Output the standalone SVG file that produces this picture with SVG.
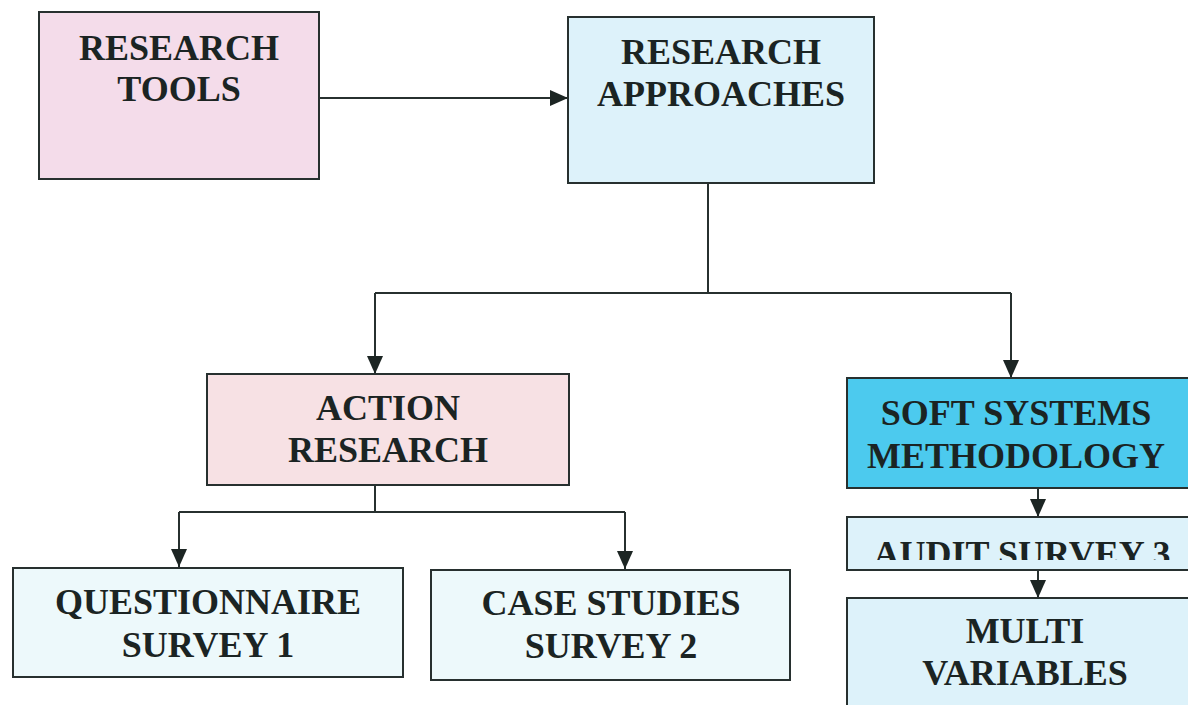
<svg xmlns="http://www.w3.org/2000/svg" width="1188" height="705" viewBox="0 0 1188 705">
  <defs>
    <marker id="arrow" viewBox="0 0 18 16" refX="18" refY="8" markerWidth="18" markerHeight="16" markerUnits="userSpaceOnUse" orient="auto">
      <path d="M0,0 L18,8 L0,16 Z" fill="#1c2523"/>
    </marker>
    <clipPath id="audit-clip">
      <rect x="847" y="517" width="341" height="43"/>
    </clipPath>
  </defs>
  <style>
    .box { stroke: #27302f; stroke-width: 2; }
    .label { font-family: "Liberation Serif", "Times New Roman", serif; font-weight: bold; font-size: 36px; fill: #1b2423; text-anchor: middle; }
    .wire { fill: none; stroke: #27302f; stroke-width: 2; }
    .pink { fill: #f4dcea; }
    .rose { fill: #f7e1e4; }
    .sky { fill: #ddf2fa; }
    .ice { fill: #edf9fb; }
    .cyan { fill: #4ccaee; }
  </style>
  <rect width="1188" height="705" fill="#ffffff"/>

  <!-- connectors -->
  <g id="connectors">
    <line class="wire" x1="319" y1="98" x2="568" y2="98" marker-end="url(#arrow)"/>
    <polyline class="wire" points="708,183 708,293"/>
    <polyline class="wire" points="375,293 1011,293"/>
    <line class="wire" x1="375" y1="293" x2="375" y2="374" marker-end="url(#arrow)"/>
    <line class="wire" x1="1011" y1="293" x2="1011" y2="378" marker-end="url(#arrow)"/>
    <polyline class="wire" points="375,485 375,512"/>
    <polyline class="wire" points="179,512 625,512"/>
    <line class="wire" x1="179" y1="512" x2="179" y2="567" marker-end="url(#arrow)"/>
    <line class="wire" x1="625" y1="512" x2="625" y2="569" marker-end="url(#arrow)"/>
    <line class="wire" x1="1038" y1="489" x2="1038" y2="517" marker-end="url(#arrow)"/>
    <line class="wire" x1="1038" y1="570" x2="1038" y2="598" marker-end="url(#arrow)"/>
  </g>

  <!-- nodes -->
  <g id="research-tools">
    <rect class="box pink" x="39" y="12" width="280" height="167"/>
    <text class="label" x="179" y="60" font-size="37">RESEARCH</text>
    <text class="label" x="179" y="101" font-size="37">TOOLS</text>
  </g>

  <g id="research-approaches">
    <rect class="box sky" x="568" y="17" width="306" height="166"/>
    <text class="label" x="721" y="64">RESEARCH</text>
    <text class="label" x="721" y="106">APPROACHES</text>
  </g>

  <g id="action-research">
    <rect class="box rose" x="207" y="374" width="362" height="111"/>
    <text class="label" x="388" y="420">ACTION</text>
    <text class="label" x="388" y="462">RESEARCH</text>
  </g>

  <g id="soft-systems">
    <rect class="box cyan" x="847" y="378" width="345" height="110"/>
    <text class="label" x="1016" y="425">SOFT SYSTEMS</text>
    <text class="label" x="1016" y="468">METHODOLOGY</text>
  </g>

  <g id="audit-survey">
    <rect class="box sky" x="847" y="517" width="345" height="53"/>
    <text class="label" x="1022" y="566" clip-path="url(#audit-clip)">AUDIT SURVEY 3</text>
  </g>

  <g id="multi-variables">
    <rect class="box sky" x="847" y="598" width="345" height="120"/>
    <text class="label" x="1025" y="643">MULTI</text>
    <text class="label" x="1025" y="685">VARIABLES</text>
  </g>

  <g id="questionnaire">
    <rect class="box ice" x="13" y="568" width="390" height="109"/>
    <text class="label" x="208" y="614">QUESTIONNAIRE</text>
    <text class="label" x="208" y="657">SURVEY 1</text>
  </g>

  <g id="case-studies">
    <rect class="box ice" x="431" y="570" width="359" height="110"/>
    <text class="label" x="611" y="615">CASE STUDIES</text>
    <text class="label" x="611" y="658">SURVEY 2</text>
  </g>
</svg>
